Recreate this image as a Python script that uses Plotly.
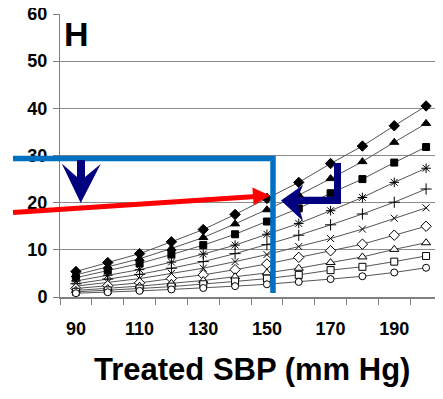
import plotly.graph_objects as go

# ---- data ----
sbp = [90, 100, 110, 120, 130, 140, 150, 160, 170, 180, 190, 200]
s_filled_diamond = [5.4, 7.3, 9.2, 11.7, 14.3, 17.5, 20.9, 24.3, 28.3, 32.0, 36.3, 40.5]
s_filled_triangle = [4.7, 6.4, 8.1, 10.3, 12.6, 15.5, 18.5, 21.6, 25.1, 28.7, 32.8, 36.8]
s_filled_square = [4.1, 5.6, 7.1, 9.0, 11.0, 13.3, 16.0, 18.8, 22.0, 25.0, 28.5, 31.8]
s_asterisk = [3.4, 4.6, 5.8, 7.4, 9.1, 11.0, 13.3, 15.6, 18.3, 21.1, 24.3, 27.3]
s_plus = [2.8, 3.8, 4.8, 6.1, 7.5, 9.2, 11.1, 13.1, 15.3, 17.6, 20.1, 22.9]
s_x = [2.3, 3.1, 3.9, 5.0, 6.1, 7.5, 9.0, 10.7, 12.4, 14.4, 16.7, 18.9]
s_open_diamond = [1.8, 2.4, 3.0, 3.9, 4.7, 5.8, 7.0, 8.4, 9.8, 11.2, 13.1, 15.0]
s_open_triangle = [1.4, 1.8, 2.3, 2.9, 3.5, 4.3, 5.1, 6.1, 7.3, 8.5, 10.1, 11.5]
s_open_square = [1.1, 1.4, 1.8, 2.2, 2.7, 3.3, 3.9, 4.7, 5.7, 6.4, 7.5, 8.7]
s_open_circle = [0.8, 1.0, 1.3, 1.6, 1.9, 2.3, 2.7, 3.2, 3.8, 4.4, 5.2, 6.2]
x_tick_labels = [90, 110, 130, 150, 170, 190]
y_tick_labels = [0, 10, 20, 30, 40, 50, 60]
panel_label = "H"
x_title = "Treated SBP (mm Hg)"

# ---- layout geometry ----
# the page body has an 8px margin, so the figure starts at screen (8, 8)
OFF = 8
W, H = 443 - OFF, 399 - OFF
# plot area in screen pixels: x 60..442, y 14..297
ML, MT = 60 - OFF, 14 - OFF
MR = W - (442 - OFF)
MB = H - (297 - OFF)
PW = W - ML - MR
PH = H - MT - MB
FONT = "Liberation Sans, Arial, sans-serif"


def P(x, y):
    """screen pixel -> paper coordinates"""
    fx, fy = x - OFF, y - OFF
    return ((fx - ML) / PW, (H - MB - fy) / PH)


def path(points, close=False):
    s = ""
    for i, (x, y) in enumerate(points):
        px, py = P(x, y)
        s += ("M" if i == 0 else "L") + f" {px:.5f} {py:.5f} "
    if close:
        s += "Z"
    return s


fig = go.Figure()

series = [
    (s_filled_diamond, "diamond", "black", 8),
    (s_filled_triangle, "triangle-up", "black", 8),
    (s_filled_square, "square", "black", 7),
    (s_asterisk, "asterisk-open", "black", 8),
    (s_plus, "cross-thin-open", "black", 8),
    (s_x, "x-thin-open", "black", 7),
    (s_open_diamond, "diamond", "white", 8),
    (s_open_triangle, "triangle-up", "white", 8),
    (s_open_square, "square", "white", 7),
    (s_open_circle, "circle", "white", 7),
]

for vals, sym, fill, size in series:
    fig.add_trace(go.Scatter(
        x=sbp, y=vals, mode="lines+markers",
        line=dict(color="#555555", width=1),
        marker=dict(symbol=sym, size=size, color=fill,
                    line=dict(color="black", width=1)),
        showlegend=False, hoverinfo="skip",
    ))

shapes = []
# blue reference line (y=30, then down at SBP 150)
shapes.append(dict(type="path", xref="paper", yref="paper",
                   path=path([(13, 158.5), (273, 158.5), (273, 293)]),
                   line=dict(color="#0070C0", width=5.5), layer="above"))
# red arrow
shapes.append(dict(type="line", xref="paper", yref="paper",
                   x0=P(13, 212.5)[0], y0=P(13, 212.5)[1],
                   x1=P(256, 196.5)[0], y1=P(256, 196.5)[1],
                   line=dict(color="#FF0000", width=5), layer="above"))
shapes.append(dict(type="path", xref="paper", yref="paper",
                   path=path([(270, 195.5), (253.6, 205.0), (252.4, 187.6)], close=True),
                   fillcolor="#FF0000", line=dict(width=0), layer="above"))
# navy down arrow
shapes.append(dict(type="path", xref="paper", yref="paper",
                   path=path([(77, 160), (85, 160), (85, 177), (100.7, 164),
                              (80.7, 203), (61.7, 163.5), (77, 177)], close=True),
                   fillcolor="#000080", line=dict(width=0), layer="above"))
# navy L-shaped arrow
shapes.append(dict(type="path", xref="paper", yref="paper",
                   path=path([(334, 163), (341, 163), (341, 204), (298, 204),
                              (303, 221), (281, 200.5), (303, 185), (298, 196.7),
                              (334, 196.7)], close=True),
                   fillcolor="#000080", line=dict(width=0), layer="above"))

fig.update_layout(
    width=W, height=H,
    margin=dict(l=ML, r=MR, t=MT, b=MB, autoexpand=False),
    paper_bgcolor="white", plot_bgcolor="white",
    shapes=shapes,
    font=dict(family=FONT, color="black"),
    annotations=[
        dict(text=panel_label, xref="paper", yref="paper",
             x=P(76.5, 33.5)[0], y=P(76.5, 33.5)[1],
             xanchor="center", yanchor="middle", showarrow=False,
             font=dict(family=FONT, size=34, weight="bold", color="black")),
        dict(text=x_title, xref="paper", yref="paper",
             x=P(251.5, 369)[0], y=P(251.5, 369)[1],
             xanchor="center", yanchor="middle", showarrow=False,
             font=dict(family=FONT, size=31, weight="bold", color="black")),
    ],
)

fig.update_xaxes(
    range=[85, 205], automargin=False, ticklabeloverflow="allow",
    tickvals=x_tick_labels, ticktext=[str(v) for v in x_tick_labels],
    ticks="", ticklabelstandoff=15,
    tickfont=dict(family=FONT, size=18, weight="bold", color="black"),
    showgrid=False, zeroline=False,
    showline=True, linecolor="#808080", linewidth=1.5,
    minor=dict(tickvals=list(range(85, 206, 10)), ticks="outside",
               ticklen=6, tickcolor="#808080", tickwidth=1, showgrid=False),
)
fig.update_yaxes(
    range=[0, 60], tickvals=y_tick_labels, automargin=False,
    ticklabeloverflow="allow",
    ticks="outside", ticklen=6, tickcolor="#808080", ticklabelstandoff=2,
    tickfont=dict(family=FONT, size=18, weight="bold", color="black"),
    showgrid=True, gridcolor="#8c8c8c", gridwidth=1,
    zeroline=False, showline=True, linecolor="#808080", linewidth=1,
)

fig.write_html("out.html")
